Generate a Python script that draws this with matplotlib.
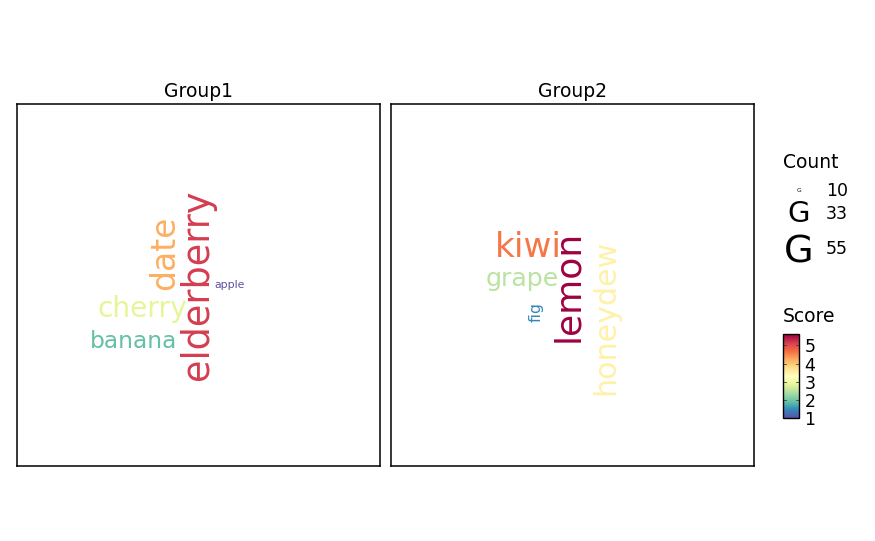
import numpy as np
import matplotlib
matplotlib.use("Agg")
import matplotlib.pyplot as plt
from matplotlib.colors import Normalize
from matplotlib.colorbar import ColorbarBase

# ---- data ----
groups = ["Group1", "Group2"]
words_g1 = ["apple", "banana", "cherry", "date", "elderberry"]
count_g1 = [11, 23, 31, 41, 50]
score_g1 = [1.0, 1.9, 2.85, 4.2, 5.15]
words_g2 = ["fig", "grape", "honeydew", "kiwi", "lemon"]
count_g2 = [14, 26, 35, 44, 49]
score_g2 = [1.45, 2.5, 3.5, 4.6, 5.6]
count_breaks = [10, 33, 55]
score_breaks = [1, 2, 3, 4, 5]

# ---- layout (word-cloud placement, pixel offsets inside each panel) ----
pos_g1 = {"apple": (213, 184, 0), "banana": (116.5, 244, 0), "cherry": (125.5, 212.7, 0),
          "date": (157, 149, 90), "elderberry": (191, 181, 90)}
pos_g2 = {"fig": (150, 208.5, 90), "grape": (131, 181.7, 0), "honeydew": (223, 213, 90),
          "kiwi": (137, 153, 0), "lemon": (187, 182, 90)}

W, H, DPI = 875, 541, 100
fig = plt.figure(figsize=(W / DPI, H / DPI), dpi=DPI)
fig.patch.set_facecolor("white")

CMIN, CMAX = 10, 55
R0, R1 = 6.0, 38.4  # em size in px


def size_pt(c):
    em = R0 + (R1 - R0) * np.sqrt((c - CMIN) / (CMAX - CMIN))
    return em * 72 / DPI


cmap = plt.get_cmap("Spectral_r")
norm = Normalize(min(score_g1 + score_g2), max(score_g1 + score_g2))


def fx(x):
    return x / W


def fy(y):
    return 1 - y / H


panel_left = [17, 391]
panel_top, panel_w, panel_h = 104, 363, 362
data = [(words_g1, count_g1, score_g1, pos_g1), (words_g2, count_g2, score_g2, pos_g2)]
for gi, (words, counts, scores, pos) in enumerate(data):
    ax = fig.add_axes([fx(panel_left[gi]), fy(panel_top + panel_h), panel_w / W, panel_h / H])
    ax.set_xlim(0, panel_w)
    ax.set_ylim(panel_h, 0)
    ax.set_xticks([])
    ax.set_yticks([])
    for s in ax.spines.values():
        s.set_linewidth(1.1)
        s.set_color("black")
    for w, c, sc in zip(words, counts, scores):
        x, y, r = pos[w]
        ax.text(x, y, w, fontsize=size_pt(c), color=cmap(norm(sc)), rotation=r,
                rotation_mode="anchor", ha="center", va="baseline", family="DejaVu Sans")
    ax.set_title(groups[gi], fontsize=13.5, pad=5, color="black")

# ---- Count legend ----
fig.text(fx(783), fy(162.5), "Count", fontsize=13.5, ha="left", va="center")
g_y = [190, 213.5, 252.5]
l_y = [191, 214, 249]
for b, gy, ly in zip(count_breaks, g_y, l_y):
    fig.text(fx(799), fy(gy), "G", fontsize=size_pt(b), ha="center", va="center")
    fig.text(fx(826), fy(ly), str(b), fontsize=12.5, ha="left", va="center")

# ---- Score colorbar ----
fig.text(fx(783), fy(316.5), "Score", fontsize=13.5, ha="left", va="center")
cax = fig.add_axes([fx(782.5), fy(418.3), 16.5 / W, 84 / H])
cb = ColorbarBase(cax, cmap=cmap, norm=norm, orientation="vertical")
cb.set_ticks(score_breaks)
cb.outline.set_linewidth(1.0)
cb.outline.set_edgecolor("black")
cax.tick_params(axis="y", length=0, labelsize=12.5, pad=4)
for t in score_breaks:
    cax.plot([0, 0.2], [t, t], color="#444444", lw=0.6, transform=cax.get_yaxis_transform())
    cax.plot([0.8, 1], [t, t], color="#444444", lw=0.6, transform=cax.get_yaxis_transform())

fig.savefig("out.png", dpi=DPI, facecolor="white")
